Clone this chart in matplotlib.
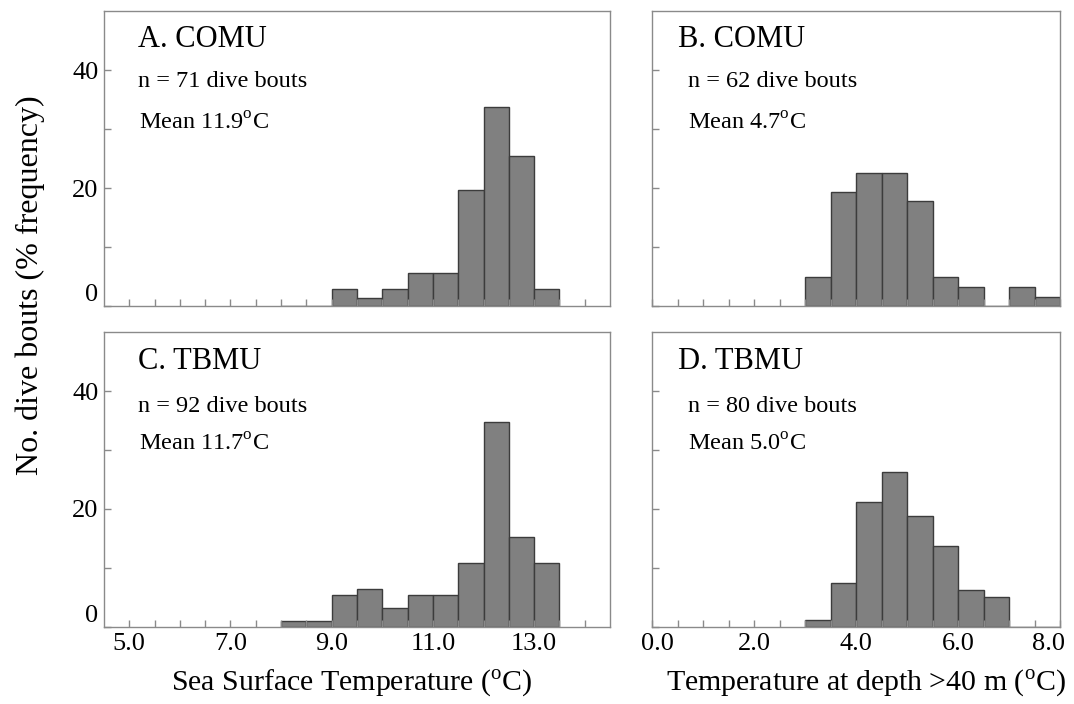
import numpy as np
import matplotlib
matplotlib.use("Agg")
import matplotlib.pyplot as plt
import matplotlib.transforms as mtransforms

plt.rcParams["font.family"] = ["Liberation Serif", "DejaVu Serif"]
plt.rcParams["mathtext.fontset"] = "custom"
plt.rcParams["mathtext.rm"] = "Liberation Serif"

# Sea surface temperature bins (0.5 degC), left edges
sst_edges = [8.0, 8.5, 9.0, 9.5, 10.0, 10.5, 11.0, 11.5, 12.0, 12.5, 13.0]
comu_sst_counts = [0, 0, 2, 1, 2, 4, 4, 14, 24, 18, 2]
tbmu_sst_counts = [1, 1, 5, 6, 3, 5, 5, 10, 32, 14, 10]

# Temperature at depth bins (0.5 degC), left edges
deep_edges = [3.0, 3.5, 4.0, 4.5, 5.0, 5.5, 6.0, 6.5, 7.0, 7.5]
comu_deep_counts = [3, 12, 14, 14, 11, 3, 2, 0, 2, 1]
tbmu_deep_counts = [1, 6, 17, 21, 15, 11, 5, 4, 0, 0]

panel_titles = ["A. COMU", "B. COMU", "C. TBMU", "D. TBMU"]
n_bouts = [71, 62, 92, 80]
means = ["11.9", "4.7", "11.7", "5.0"]

bar_color = "#808080"
edge_color = "#3c3c3c"
frame_color = "#8a8a8a"

fig = plt.figure(figsize=(10.74, 7.04), dpi=100)

lx, lw = 0.0968, 0.4712
rx, rw = 0.6071, 0.3799
ty, by, h = 0.5653, 0.1094, 0.4190

axA = fig.add_axes([lx, ty, lw, h])
axB = fig.add_axes([rx, ty, rw, h])
axC = fig.add_axes([lx, by, lw, h])
axD = fig.add_axes([rx, by, rw, h])

panels = [
    (axA, sst_edges, comu_sst_counts),
    (axB, deep_edges, comu_deep_counts),
    (axC, sst_edges, tbmu_sst_counts),
    (axD, deep_edges, tbmu_deep_counts),
]

for i, (ax, edges, counts) in enumerate(panels):
    pct = np.array(counts) / n_bouts[i] * 100
    ax.bar(edges, pct, width=0.5, align="edge", color=bar_color,
           edgecolor=edge_color, linewidth=1.0)
    ax.set_ylim(0, 50)
    ax.set_yticks([0, 10, 20, 30, 40])
    for s in ax.spines.values():
        s.set_color(frame_color)
        s.set_linewidth(1.0)
    ax.tick_params(direction="in", length=5, color=frame_color, width=1.0,
                   labelsize=19, pad=4)
    left = i in (0, 2)
    tx = 0.067 if left else 0.064
    ax.text(tx, 0.905 if i < 2 else 0.90, panel_titles[i], transform=ax.transAxes,
            fontsize=22, va="center", ha="left")
    ax.text(0.068 if left else 0.088, 0.762 if i < 2 else 0.748,
            f"n = {n_bouts[i]} dive bouts", transform=ax.transAxes,
            fontsize=17.5, va="center", ha="left")
    ax.text(0.070 if left else 0.088, 0.618,
            "Mean " + means[i] + r"$^{\rm o}$C", transform=ax.transAxes,
            fontsize=17.5, va="center", ha="left")

sst_ticks = np.arange(5.0, 14.01, 0.5)
sst_labels = [f"{t:.1f}" if t in (5.0, 7.0, 9.0, 11.0, 13.0) else "" for t in sst_ticks]
deep_ticks = np.arange(0.0, 8.01, 0.5)
deep_labels = [f"{t:.1f}" if t in (0.0, 2.0, 4.0, 6.0, 8.0) else "" for t in deep_ticks]

for ax in (axA, axC):
    ax.set_xlim(4.5, 14.5)
    ax.set_xticks(sst_ticks)
for ax in (axB, axD):
    ax.set_xlim(0, 8)
    ax.set_xticks(deep_ticks)

axA.set_xticklabels([])
axB.set_xticklabels([])
axC.set_xticklabels(sst_labels)
axD.set_xticklabels(deep_labels)


def nudge(label, dx, dy):
    label.set_transform(label.get_transform() +
                        mtransforms.ScaledTranslation(dx / 72, dy / 72, fig.dpi_scale_trans))


# the end labels of panel D sit a little inside the frame in the original
dlabels = axD.get_xticklabels()
nudge(dlabels[0], 4, 0)
nudge(dlabels[-1], -8, 0)

for ax in (axA, axC):
    ax.set_yticklabels(["0", "", "20", "", "40"])
    nudge(ax.get_yticklabels()[0], 0, 10)
for ax in (axB, axD):
    ax.set_yticklabels([])

axC.set_xlabel(r"Sea Surface Temperature ($^{\rm o}$C)", fontsize=21.5, labelpad=6)
axD.set_xlabel(r"Temperature at depth >40 m ($^{\rm o}$C)", fontsize=21.5, labelpad=6)
axC.xaxis.set_label_coords(0.49, -0.135)
axD.xaxis.set_label_coords(0.525, -0.135)

fig.text(0.028, 0.595, "No. dive bouts (% frequency)", rotation=90,
         fontsize=23, va="center", ha="center")

fig.savefig("out.png", dpi=100)
